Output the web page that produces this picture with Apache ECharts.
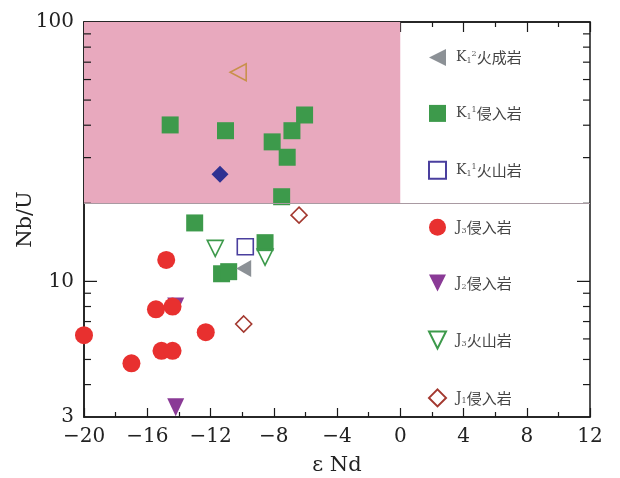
<!DOCTYPE html>
<html><head><meta charset="utf-8">
<script src="https://cdn.jsdelivr.net/npm/echarts@6/dist/echarts.min.js"></script>
<style>html,body{margin:0;padding:0;background:#fff}#c{width:620px;height:478px}</style>
</head><body><div id="c"></div>
<script>
// ---- data (εNd, Nb/U) ----
const xTicks = [-20, -16, -12, -8, -4, 0, 4, 8, 12];
const yTickLabels = [3, 10, 100];
const yMinorTicks = [4, 5, 6, 7, 8, 9, 20, 30, 40, 50, 60, 70, 80, 90];
const yMajorTicks = [10];
const seriesNames = ['K₁²火成岩', 'K₁¹侵入岩', 'K₁¹火山岩', 'J₃侵入岩', 'J₂侵入岩', 'J₃火山岩', 'J₁侵入岩'];
const k1_2_volc = [[-9.9, 11.2]];
const k1_1_intr = [[-14.55, 40.1], [-11.05, 38.1], [-8.1, 34.5], [-6.85, 38.1], [-6.05, 43.8], [-7.15, 30.1], [-7.5, 21.2], [-13.0, 16.8], [-8.55, 14.1], [-11.3, 10.7], [-10.85, 10.9]];
const k1_1_volc = [[-9.8, 13.6]];
const j3_intr = [[-14.8, 12.1], [-15.45, 7.8], [-14.4, 8.0], [-20, 6.2], [-12.3, 6.37], [-15.1, 5.4], [-14.4, 5.4], [-17.0, 4.83]];
const j2_intr = [[-14.2, 8.0], [-14.2, 3.27]];
const j3_volc = [[-11.7, 13.4], [-8.55, 12.4]];
const j1_intr = [[-6.4, 18.0], [-9.9, 6.85]];
const other_tri = [[-10.25, 64]];
const other_dia = [[-11.4, 25.9]];
const fieldBox = [[-20, 20], [0, 100]];
const fieldLineY = 20;

const LEFT_TRI = 'path://M0,5 L10,0 L10,10 Z';
const DOWN_TRI = 'path://M0,0 L10,0 L5,10 Z';
const SERIF = 'DejaVu Serif';
const richNames = {
  'K₁²火成岩': '{l|K}{sb|1}{sp|2}{c|火成岩}',
  'K₁¹侵入岩': '{l|K}{sb|1}{sp|1}{c|侵入岩}',
  'K₁¹火山岩': '{l|K}{sb|1}{sp|1}{c|火山岩}',
  'J₃侵入岩': '{l|J}{sb|3}{c|侵入岩}',
  'J₂侵入岩': '{l|J}{sb|2}{c|侵入岩}',
  'J₃火山岩': '{l|J}{sb|3}{c|火山岩}',
  'J₁侵入岩': '{l|J}{sb|1}{c|侵入岩}'
};

const chart = echarts.init(document.getElementById('c'), null, {renderer: 'canvas'});

function scatter(name, data, symbol, size, fill, stroke, z) {
  return {
    type: 'scatter', name: name, data: data, symbol: symbol, symbolSize: size, z: z || 3,
    itemStyle: stroke ? {color: 'rgba(0,0,0,0)', borderColor: stroke, borderWidth: 1.6, opacity: 1}
                      : {color: fill, opacity: 1},
    emphasis: {disabled: true}
  };
}

const tickData = yMinorTicks.map(v => [-20, v, 7]).concat(yMajorTicks.map(v => [-20, v, 13]));

const option = {
  animation: false,
  backgroundColor: '#fff',
  grid: {left: 84, right: 30, top: 22, bottom: 61, show: true, borderColor: '#1a1a1a', borderWidth: 1.5,
    backgroundColor: 'transparent', containLabel: false, outerBoundsMode: 'none'},
  legend: {
    data: seriesNames, orient: 'vertical', left: 428, top: 49, padding: 0,
    itemWidth: 17, itemHeight: 17, itemGap: 38.9,
    textStyle: {
      color: '#333', fontSize: 15, padding: [0, 0, 0, 5],
      rich: {
        l: {fontFamily: SERIF, fontSize: 14, color: '#444'},
        sb: {fontFamily: SERIF, fontSize: 8, color: '#555', verticalAlign: 'bottom'},
        sp: {fontFamily: SERIF, fontSize: 8, color: '#555', verticalAlign: 'top'},
        c: {fontFamily: 'Noto Sans CJK SC', fontSize: 15, color: '#444'}
      }
    },
    formatter: n => richNames[n] || n,
    selectedMode: false
  },
  xAxis: [{
    type: 'value', min: -20, max: 12, interval: 4, position: 'bottom',
    name: 'ε Nd', nameLocation: 'middle', nameGap: 38, nameMoveOverlap: false,
    nameTextStyle: {fontFamily: SERIF, fontSize: 21, color: '#222'},
    axisLine: {show: true, onZero: false, lineStyle: {color: '#1a1a1a', width: 1.5}},
    axisTick: {show: true, inside: true, length: 9, lineStyle: {color: '#1a1a1a', width: 1.2}},
    minorTick: {show: true, splitNumber: 2, length: 5, lineStyle: {color: '#1a1a1a', width: 1.2}},
    axisLabel: {fontFamily: SERIF, fontSize: 20, color: '#222', margin: 10,
      formatter: v => xTicks.indexOf(v) >= 0 ? String(v).replace('-', '−') : ''},
    splitLine: {show: false}
  }, {
    type: 'value', min: -20, max: 12, interval: 4, position: 'top',
    axisLine: {show: true, onZero: false, lineStyle: {color: '#1a1a1a', width: 1.5}},
    axisTick: {show: true, inside: true, length: 10, lineStyle: {color: '#1a1a1a', width: 1.2}},
    minorTick: {show: true, splitNumber: 2, length: 5, lineStyle: {color: '#1a1a1a', width: 1.2}},
    axisLabel: {show: false}, splitLine: {show: false}
  }],
  yAxis: {
    type: 'log', logBase: 10, min: 3, max: 100, position: 'left',
    name: 'Nb/U', nameLocation: 'middle', nameGap: 48, nameRotate: 90, nameMoveOverlap: false,
    nameTextStyle: {fontFamily: SERIF, fontSize: 21, color: '#222'},
    axisLine: {show: true, onZero: false, lineStyle: {color: '#1a1a1a', width: 1.5}},
    axisTick: {show: false},
    axisLabel: {fontFamily: SERIF, fontSize: 20, color: '#222', margin: 10,
      formatter: v => { const r = Math.round(v); return yTickLabels.indexOf(r) >= 0 ? String(r) : ''; }},
    splitLine: {show: false}
  },
  series: [
    {
      type: 'custom', name: 'ticks', z: 1, silent: true, clip: false,
      data: tickData, encode: {x: 0, y: 1},
      renderItem: function (params, api) {
        const v = api.value(1), len = api.value(2);
        const p0 = api.coord([-20, v]), p1 = api.coord([12, v]);
        const st = {stroke: '#1a1a1a', lineWidth: 1.2};
        return {type: 'group', children: [
          {type: 'line', shape: {x1: p0[0], y1: p0[1], x2: p0[0] + len, y2: p0[1]}, style: st},
          {type: 'line', shape: {x1: p1[0] - len, y1: p1[1], x2: p1[0], y2: p1[1]}, style: st}
        ]};
      },
      markArea: {silent: true, itemStyle: {color: '#e8a9be', opacity: 1},
        data: [[{coord: fieldBox[0]}, {coord: fieldBox[1]}]]},
      markLine: {silent: true, symbol: 'none', label: {show: false},
        lineStyle: {color: '#a99aa2', width: 1, type: 'solid'},
        data: [[{coord: [-20, fieldLineY]}, {coord: [12, fieldLineY]}]]}
    },
    scatter('J₂侵入岩', j2_intr, DOWN_TRI, [17, 18], '#8a3a96'),
    scatter('K₁¹侵入岩', k1_1_intr, 'rect', 17, '#3d9a4b'),
    scatter('J₃火山岩', j3_volc, DOWN_TRI, [16, 16], null, '#3d9a4b'),
    scatter('K₁¹火山岩', k1_1_volc, 'rect', 16, null, '#4a3f9e'),
    scatter('K₁²火成岩', k1_2_volc, LEFT_TRI, [15, 17], '#8c9196'),
    scatter('J₃侵入岩', j3_intr, 'circle', 18, '#e8302f'),
    scatter('J₁侵入岩', j1_intr, 'diamond', 16, null, '#a3382f'),
    scatter('other_tri', other_tri, LEFT_TRI, [16, 17], null, '#c8904a'),
    scatter('other_dia', other_dia, 'diamond', 17, '#2e3192')
  ]
};
chart.setOption(option);
</script></body></html>
